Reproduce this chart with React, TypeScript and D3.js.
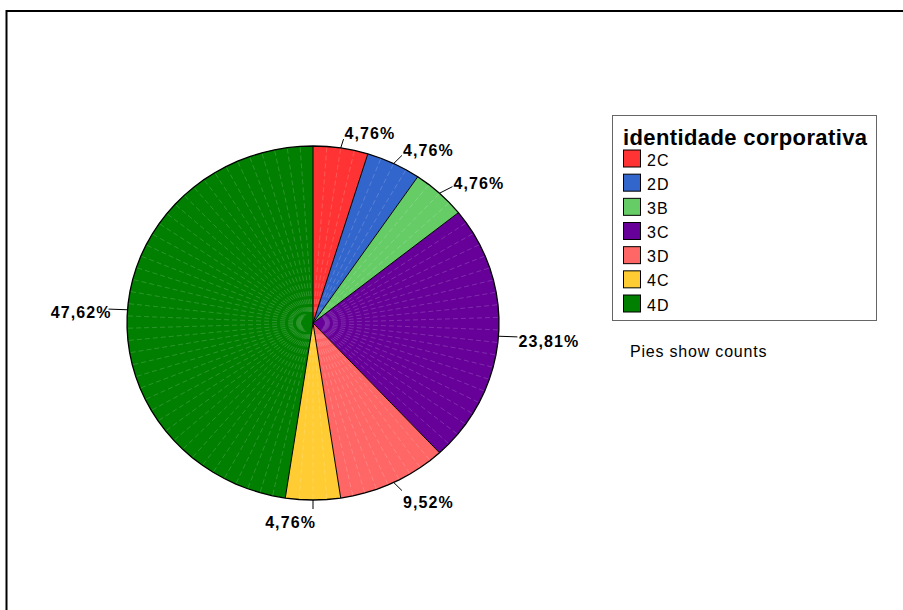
import React from "react";
import * as d3 from "d3";

const categories = ["2C", "2D", "3B", "3C", "3D", "4C", "4D"];
const counts = [1, 1, 1, 5, 2, 1, 10];
const colors = ["#ff3333", "#3366cc", "#66cc66", "#660099", "#ff6666", "#ffcc33", "#007f00"];
const legendTitle = "identidade corporativa";
const footnote = "Pies show counts";

const W = 903;
const H = 610;
const cx = 313;
const cy = 323;
const rx = 186;
const ry = 177;
const lrx = 205;
const lry = 186;
const FONT = "'Liberation Sans', Arial, Helvetica, sans-serif";

type Slice = { cat: string; value: number; color: string };

export default function App() {
  const data: Slice[] = categories.map((c, i) => ({ cat: c, value: counts[i], color: colors[i] }));
  const total = d3.sum(counts);
  const arcs = d3.pie<Slice>().sort(null).value((d) => d.value).startAngle(0).endAngle(2 * Math.PI)(data);
  const pt = (a: number, sx: number, sy: number): [number, number] => [cx + sx * Math.sin(a), cy - sy * Math.cos(a)];
  const fmt = (v: number) => d3.format(".2f")((v / total) * 100).replace(".", ",") + "%";
  const segStep = (4 * Math.PI) / 180;

  const slices = arcs.map((a, i) => {
    const span = a.endAngle - a.startAngle;
    const n = Math.max(3, Math.round(span / segStep));
    const angles = d3.range(n + 1).map((k) => a.startAngle + (span * k) / n);
    const verts = angles.map((ang) => pt(ang, rx, ry));
    const path = d3.path();
    path.moveTo(cx, cy);
    verts.forEach((v) => path.lineTo(v[0], v[1]));
    path.closePath();
    const seams = angles.slice(1, -1);
    return { a, i, path: path.toString(), seams, verts };
  });

  const outline = (() => {
    const p = d3.path();
    let first = true;
    slices.forEach((s) =>
      s.verts.forEach((v) => {
        if (first) {
          p.moveTo(v[0], v[1]);
          first = false;
        } else p.lineTo(v[0], v[1]);
      })
    );
    p.closePath();
    return p.toString();
  })();

  const legendY = d3.scaleLinear().domain([0, categories.length - 1]).range([158.5, 303.5]);

  return (
    <svg width={W} height={H} style={{ position: "absolute", left: 0, top: 0, display: "block", background: "#fff" }}>
      <rect x={6.5} y={11} width={1200} height={1200} fill="none" stroke="#000" strokeWidth={2} />
      <g>
        {slices.map((s) => (
          <g key={s.a.data.cat}>
            <path d={s.path} fill={s.a.data.color} stroke="none" />
            {s.seams.map((ang, k) => {
              const [x1, y1] = pt(ang, rx - 1, ry - 1);
              const [x2, y2] = pt(ang, rx * 0.06, ry * 0.06);
              return (
                <line key={k} x1={x1} y1={y1} x2={x2} y2={y2} stroke="#ffffff" strokeOpacity={0.25} strokeWidth={0.7} strokeDasharray="5 3" />
              );
            })}
          </g>
        ))}
        {slices.map((s) => {
          const [x, y] = pt(s.a.startAngle, rx, ry);
          return <line key={"b" + s.i} x1={cx} y1={cy} x2={x} y2={y} stroke="#000" strokeWidth={1} />;
        })}
        <path d={outline} fill="none" stroke="#000" strokeWidth={1.3} />
      </g>
      <g>
        {arcs.map((a) => {
          const mid = (a.startAngle + a.endAngle) / 2;
          const [ex, ey] = pt(mid, rx, ry);
          const [ax, ay] = pt(mid, lrx, lry);
          const right = Math.sin(mid) > 1e-6;
          const baseline = ay + 3.5 - 9.5 * Math.cos(mid) + 5.7;
          return (
            <g key={"l" + a.data.cat}>
              <line x1={ex} y1={ey} x2={ax} y2={ay} stroke="#000" strokeWidth={1} />
              <text
                x={right ? ax + 1 : ax + 3}
                y={baseline}
                textAnchor={right ? "start" : "end"}
                fontFamily={FONT}
                fontWeight="bold"
                fontSize={16}
                letterSpacing={1.1}
                fill="#000"
              >
                {fmt(a.data.value)}
              </text>
            </g>
          );
        })}
      </g>
      <g>
        <rect x={612.5} y={115.5} width={264} height={205} fill="#fff" stroke="#666" strokeWidth={1} />
        <text x={623} y={145} fontFamily={FONT} fontWeight="bold" fontSize={22} textLength={244} lengthAdjust="spacing" fill="#000">
          {legendTitle}
        </text>
        {categories.map((c, i) => (
          <g key={"lg" + c}>
            <rect x={623.5} y={legendY(i) - 8.5} width={17} height={17} fill={colors[i]} stroke="#000" strokeWidth={1} />
            <text x={647} y={legendY(i) + 7} fontFamily={FONT} fontSize={16} letterSpacing={1} fill="#000">
              {c}
            </text>
          </g>
        ))}
      </g>
      <text x={630} y={357} fontFamily={FONT} fontSize={16} letterSpacing={0.8} fill="#000">
        {footnote}
      </text>
    </svg>
  );
}
